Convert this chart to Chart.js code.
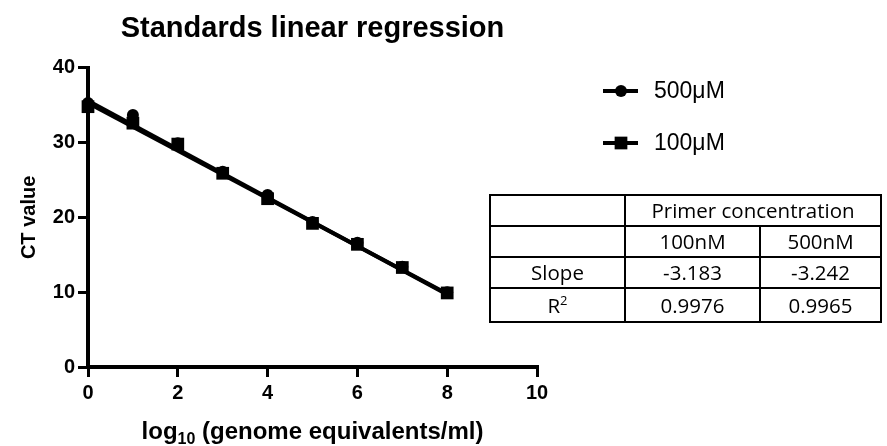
<!DOCTYPE html>
<html>
<head>
  <script src="https://cdn.jsdelivr.net/npm/chart.js"></script>
  <style>
    body { margin: 0; background: #fff; }
    #wrap { position: relative; width: 887px; height: 446px; }
    #stats {
      position: absolute; left: 489px; top: 194px;
      border-collapse: collapse; table-layout: fixed; width: 391px;
      font-family: "Open Sans", sans-serif; font-size: 20.5px; color: #000;
    }
    #stats td { border: 2px solid #000; text-align: center; padding: 0; height: 29px; line-height: 1; }
  </style>
</head>
<body>
<div id="wrap">
  <canvas id="myChart" width="887" height="446"></canvas>
  <table id="stats">
    <colgroup><col style="width:135px"><col style="width:135px"><col style="width:121px"></colgroup>
    <tbody id="statsBody"></tbody>
  </table>
</div>

<script>
  // values
  var logGE = [0, 1, 2, 3, 4, 5, 6, 7, 8];
  var ct500 = [35.3, 33.7, 29.9, 26.1, 23.0, 19.4, 16.6, 13.4, 10.0];
  var ct100 = [34.8, 32.6, 29.8, 25.9, 22.5, 19.2, 16.4, 13.3, 9.9];
  var seriesNames = ['500\u03bcM', '100\u03bcM'];
  // regression line ends (x = 0 and x = 8)
  var fitX = [0, 8];
  var fit500 = [35.6, 9.7];
  var fit100 = [35.3, 9.8];
  var xTicks = [0, 2, 4, 6, 8, 10];
  var yTicks = [0, 10, 20, 30, 40];

  // table values
  var primers = ['100nM', '500nM'];
  var slopes = ['-3.183', '-3.242'];
  var rSquared = ['0.9976', '0.9965'];

  function toPoints(xs, ys) {
    return xs.map(function (x, i) { return { x: x, y: ys[i] }; });
  }

  // build the stats table
  var tb = document.getElementById('statsBody');
  tb.innerHTML =
    '<tr><td></td><td colspan="2">Primer concentration</td></tr>' +
    '<tr><td></td><td>' + primers[0] + '</td><td>' + primers[1] + '</td></tr>' +
    '<tr><td>Slope</td><td>' + slopes[0] + '</td><td>' + slopes[1] + '</td></tr>' +
    '<tr><td style="height:32px">R<sup style="font-size:13px">2</sup></td><td style="height:32px">' + rSquared[0] +
    '</td><td style="height:32px">' + rSquared[1] + '</td></tr>';

  var FONT = '"Liberation Sans", Arial, sans-serif';

  // legend at top right + x axis title with subscript
  var extras = {
    id: 'extras',
    afterDraw: function (chart) {
      var ctx = chart.ctx;
      ctx.save();
      chart.data.datasets.slice(0, 2).forEach(function (ds, i) {
        var y = 91 + i * 52;
        ctx.strokeStyle = '#000';
        ctx.lineWidth = 4;
        ctx.beginPath();
        ctx.moveTo(603, y);
        ctx.lineTo(638, y);
        ctx.stroke();
        ctx.fillStyle = '#000';
        Chart.helpers.drawPoint(ctx, { pointStyle: ds.pointStyle, radius: ds.pointRadius, borderWidth: 0 }, 621, y);
        ctx.font = '23px ' + FONT;
        ctx.textBaseline = 'middle';
        ctx.textAlign = 'left';
        ctx.fillText(ds.label, 654, y + 1);
      });

      // log10 (genome equivalents/ml)
      var a = chart.chartArea;
      var big = 'bold 24px ' + FONT, small = 'bold 16px ' + FONT;
      var p1 = 'log', p2 = '10', p3 = ' (genome equivalents/ml)';
      ctx.font = big; var w1 = ctx.measureText(p1).width, w3 = ctx.measureText(p3).width;
      ctx.font = small; var w2 = ctx.measureText(p2).width;
      var x = (a.left + a.right) / 2 - (w1 + w2 + w3) / 2;
      var base = 439;
      ctx.textBaseline = 'alphabetic';
      ctx.textAlign = 'left';
      ctx.fillStyle = '#000';
      ctx.font = big; ctx.fillText(p1, x, base);
      ctx.font = small; ctx.fillText(p2, x + w1, base + 5);
      ctx.font = big; ctx.fillText(p3, x + w1 + w2, base);
      ctx.restore();
    }
  };

  var pointSet = function (label, ys, style, r) {
    return {
      label: label,
      data: toPoints(logGE, ys),
      showLine: false,
      backgroundColor: '#000',
      pointStyle: style,
      pointRadius: r,
      pointBorderWidth: 0,
      clip: false
    };
  };
  var fitSet = function (ys) {
    return {
      data: toPoints(fitX, ys),
      showLine: true,
      borderColor: '#000',
      borderWidth: 4,
      pointRadius: 0,
      clip: false
    };
  };

  var ctx = document.getElementById('myChart').getContext('2d');
  var myChart = new Chart(ctx, {
    type: 'scatter',
    data: {
      datasets: [
        pointSet(seriesNames[0], ct500, 'circle', 6),
        pointSet(seriesNames[1], ct100, 'rect', 9),
        fitSet(fit500),
        fitSet(fit100)
      ]
    },
    options: {
      responsive: false,
      animation: false,
      layout: { padding: { left: 0, right: 350, top: 0, bottom: 0 } },
      plugins: {
        legend: { display: false },
        tooltip: { enabled: false },
        title: {
          display: true,
          fullSize: false,
          text: 'Standards linear regression',
          color: '#000',
          font: { family: FONT, size: 29, weight: 'bold' },
          padding: { top: 12, bottom: 21 }
        }
      },
      scales: {
        x: {
          type: 'linear',
          min: 0, max: 10,
          afterBuildTicks: function (s) { s.ticks = xTicks.map(function (v) { return { value: v }; }); },
          afterFit: function (s) { s.height = 79; },
          ticks: { color: '#000', padding: 4, font: { family: FONT, size: 20, weight: 'bold' } },
          grid: { drawOnChartArea: false, color: '#000', lineWidth: 3, tickLength: 10 },
          border: { color: '#000', width: 4 }
        },
        y: {
          min: 0, max: 40,
          afterBuildTicks: function (s) { s.ticks = yTicks.map(function (v) { return { value: v }; }); },
          afterFit: function (s) { s.width = 88; },
          ticks: { color: '#000', padding: 3, font: { family: FONT, size: 20, weight: 'bold' } },
          grid: { drawOnChartArea: false, color: '#000', lineWidth: 3, tickLength: 10 },
          border: { color: '#000', width: 4 },
          title: {
            display: true,
            text: 'CT value',
            color: '#000',
            padding: 17,
            font: { family: FONT, size: 20, weight: 'bold' }
          }
        }
      }
    },
    plugins: [extras]
  });
</script>
</body>
</html>
